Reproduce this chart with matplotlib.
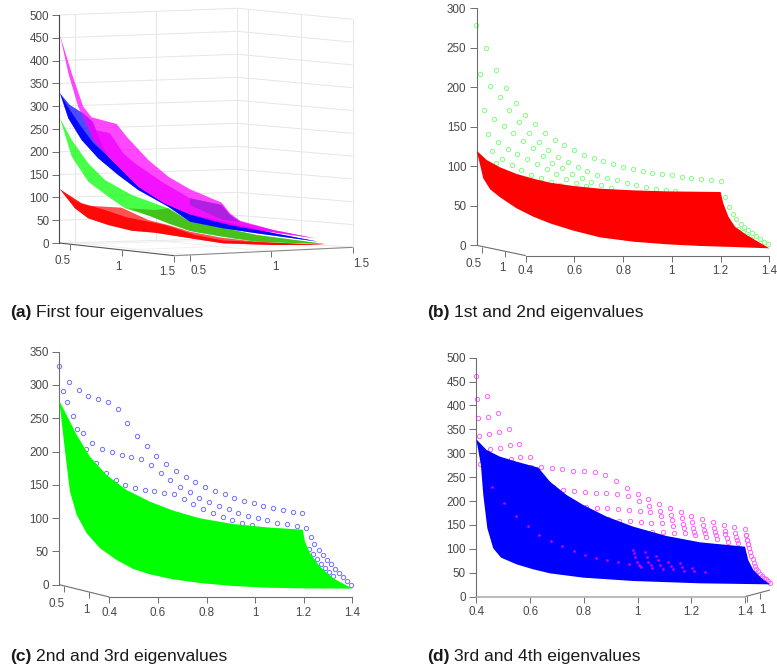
import numpy as np
import matplotlib
matplotlib.use("Agg")
import matplotlib.pyplot as plt

plt.rcParams['font.family'] = ['Liberation Sans', 'DejaVu Sans']

W, H = 777, 671
AXC = '#6e6e6e'
TXT = '#484848'
GRID = '#e6e6e6'
TS = 8.4

# ---------- panel (a) sheets: (x, z) outlines ----------
a_red_x = [-.3045,-.212,-.13,.076,.241,.385,.498,.702,.91,1.331,1.012,.702,.529,.282,.138,-.006,-.13,-.212]
a_red_z = [117.8,90.6,81.8,77.4,50.4,37.3,24.8,11,2.9,-4.4,-4.4,-.7,8.8,22.6,27,39.5,54.2,76.1]
a_redb_x = [-.3045,-.171,-.027,.107,.344,.529,.702,1.331,1.012,.702,.529,.282,.138,-.006,-.13,-.212]
a_redb_z = [117.8,87.1,72.4,56.4,39.5,17.5,5.5,-4.4,-4.4,-.7,8.8,22.6,27,39.5,54.2,76.1]
a_green_x = [-.3045,-.232,-.13,-.027,.138,.364,.498,.702,.91,1.331,.91,.702,.529,.364,.262,.097,-.006,-.13,-.232]
a_green_z = [273.5,225.9,174.8,138.2,105.3,76.1,46.7,32.9,17.5,-2.2,2.9,13.8,24.1,43.2,57.7,76.1,101.5,134.4,189.3]
a_greend_x = [.117,.282,.364,.498,.702,.91,1.331,.91,.702,.498,.375,.251]
a_greend_z = [76.1,72.4,76.1,46.7,32.9,17.5,-2.2,2.9,13.8,26.3,41.7,59.2]
a_blue_x = [-.3045,-.243,-.161,-.101,-.058,-.006,.179,.337,.498,.702,1.01,1.29,.91,.704,.498,.364,.179,.055,-.068,-.171,-.253]
a_blue_z = [328.3,302.6,284.4,265.4,225.9,189.3,123.5,87.7,62.9,46.7,21.9,2.9,21.3,32.2,46.7,79.6,116.2,149.1,185.7,225.9,273.5]
a_blueb_x = [-.3045,-.243,-.181,-.099,-.006,.179,.337,.498,.702,1.01,1.29,.91,.704,.498,.364,.179,.055,-.068,-.171,-.253]
a_blueb_z = [328.3,291.7,258.8,219.3,189.3,123.5,87.7,62.9,46.7,21.9,2.9,21.3,32.2,46.7,79.6,116.2,149.1,185.7,225.9,273.5]
a_mag_x = [-.3045,-.232,-.161,-.109,.045,.107,.241,.364,.498,.694,.745,.807,1.012,1.27,.91,.745,.621,.498,.337,.179,-.006,-.099,-.192,-.253]
a_mag_z = [456.1,372.2,298.9,275.7,261,233.1,182,145.4,117.8,88.4,65.1,48.9,28.5,10.3,28.5,39.5,50.4,62.9,87.7,123.5,189.3,225.9,298.9,372.2]
a_magb_x = [-.14,-.088,.004,.086,.158,.323,.498,.694,.745,.807,1.012,1.27,.91,.745,.621,.498,.337,.179,-.006,-.099]
a_magb_z = [280.7,247.8,240.6,196.7,174.8,134.4,98,83.3,61.4,46.7,28.5,10.3,28.5,39.5,50.4,62.9,87.7,123.5,189.3,225.9]
a_purple_x = [.498,.694,.745,.807,.703,.498]
a_purple_z = [98,83.3,61.4,46.7,50.4,83.3]

# ---------- panel (b) ----------
b_red_x = [.199,.240,.295,.363,.431,.500,.596,.705,.842,.979,1.200,1.211,1.232,1.259,1.307,1.400,
           1.252,1.115,.979,.842,.705,.596,.500,.431,.363,.295,.254,.226,.213]
b_red_z = [119.8,108,98.7,90.3,84.4,79.3,75.1,71.7,69.6,68.3,67.5,53.2,36.3,23.6,13.1,-3.8,
           -2.1,-.8,1.3,4.6,10.1,18.6,27.8,36.3,46.8,60.8,70.9,84.8,101.7]
b_row1 = [278.9,249.8,221.9,199.1,180.6,165.4,153.1,142.6,133.7,126.6,120.2,114.8,110.5,106.3,102.9,99.6,96.6,94.5,92,90.3,88.6,86.9,85.2,84,83.1,81.8]
b_row2 = [216.9,202.1,187.7,171.3,156.1,142.2,130.8,120.7,112.2,105,99.1,94.1,89.4,85.2,83.1,78.9,75.9,73.8,71.3,70,68.3]
b_row3 = [171.7,160.3,151,141.8,132,122.8,113.5,104.2,97.5,90.7,84.8,80.2,75.9,72.1]
b_row4 = [141.3,130.8,121.9,115.2,109.3,103.4,96.6,90.7,84.4,79.3,75.1]
b_row5 = [119.8,109.3,101.7,94.9,89.4,84.8,80.6,75.9]
b_row6 = [104.2]
b_rows = [(.198,b_row1),(.2126,b_row2),(.229,b_row3),(.2454,b_row4),(.2618,b_row5),(.2783,b_row6)]
b_tail_x = [1.217,1.233,1.249,1.265,1.282,1.298,1.314,1.330,1.346,1.362,1.378,1.394]
b_tail_z = [61.6,48.9,40.1,33.3,27.4,23.2,19.4,15.6,11.8,8.4,4.6,1.3]
b_tail2_x = [1.273,1.291,1.307,1.323]
b_tail2_z = [20.3,16.5,12.2,8.4]

# ---------- panel (c) ----------
c_green_x = [.194,.224,.266,.320,.389,.471,.567,.663,.773,.910,1.047,1.196,1.205,1.226,1.267,1.322,1.4,
             1.185,1.047,.910,.773,.663,.567,.499,.430,.362,.307,.266,.238,.218]
c_green_z = [276.4,254.9,224.8,192.3,164.7,142.2,124.7,111.2,99.6,91.1,86.1,82.6,64.6,47.1,27,9.5,-6,
             -5.5,-4.5,-2,2.5,8,15.5,23.5,37.1,54.6,77.1,104.6,139.7,199.8]
c_row1 = [328.5,304.4,292.4,283.9,278.4,274.4,264.4,242.8,223.8,207.8,193.8,181.8,171.2,162.2,154.2,147.2,141.2,135.7,130.2,126.2,122.2,118.7,115.2,112.7,109.7,107.7]
c_row2 = [291.4,253.4,227.8,213.3,204.3,198.8,194.3,191.3,188.8,180.3,168.2,157.2,147.2,139.7,130.7,124.7,118.2,113.2,108.2,103.6,100.6,96.6,93.1,90.6,88.1]
c_row3 = [274.9,233.8,203.8,182.8,167.2,157.2,150.2,145.7,142.7,140.7,138.2,136.2,129.2,121.2,114.2,108.2,102.1,97.1,93.1,89.1]
c_rows = [(.194,c_row1),(.2107,c_row2),(.2258,c_row3)]
c_tail_x = [1.211,1.228,1.244,1.261,1.279,1.295,1.312,1.328,1.345,1.361,1.378,1.394]
c_tail_z = [85.1,71.1,60.6,52.1,44.6,37.1,30.5,24,17.5,12,6,0]
c_tail2_x = [1.222,1.238,1.255,1.271,1.288,1.304,1.321]
c_tail2_z = [53.6,46.1,38.6,31.5,25.5,18.5,13.5]

# ---------- panel (d) ----------
d_blue_x = [.4,.438,.488,.55,.631,.674,.736,.798,.885,.984,1.108,1.233,1.4,1.412,1.431,1.462,1.493,
            1.233,.984,.798,.674,.612,.55,.492,.463,.441,.426,.417]
d_blue_z = [329.2,306.9,292.9,282.4,269.9,240.6,212.7,191.8,167.4,146.5,126.9,113.7,104.6,76.7,55.8,38.4,25.8,
            27.9,32.8,39.8,48.8,57.2,67.6,81.6,101.1,143,212.7,275.5]
d_row1 = [461.7,419.8,384.3,351.5,320.1,291.5,271.3,269.2,266.4,263.6,262.2,260.1,255.2,242,227.4,215.5,204.3,193.9,184.8,177.1,169.5,162.5,156.2,150.6,145.8,141.6]
d_row2 = [413.6,375.9,344.5,318,292.9,270.6,251.1,230.1,223.2,221.1,219.7,217.6,216.9,214.8,210.6,200.9,189.7,179.9,170.9,163.9,156.2,149.9,143.7,138.1,133.2,129]
d_row3 = [373.1,340.3,311.7,288,267.1,247.6,230.1,216.2,205.7,195.3,188.3,185.5,184.8,184.1,182,179.9,176.4,168.1,160.4,152.7,144.4,139.5,136,130.4,125.5,118.6]
d_row4 = [336.2,309,285.9,265,247.6,230.1,216.2,202.2,191.8,181.3,170.9,163.9,161.8,159,157.6,155.5,154.8,154.1,148.5,143,136,132.5,129,123.4,118.6,109.5]
d_row5 = [276.9,254.6,233.6,216.2,202.2,188.3,177.8,167.4,160.4,153.4,146.5,141.6,138.8,137.4,136,134.6,134.6,134.6,133.9,132.5,129,124.8,120.7,115.1,111.6]
d_rows = [(.4,d_row1),(.4037,d_row2),(.4074,d_row3),(.4112,d_row4),(.4149,d_row5)]
d_tail_x = [1.404,1.407,1.411,1.415,1.42,1.424,1.429,1.432,1.437,1.442,1.448,1.456,1.463,1.471,1.478,1.486,1.493]
d_tail_z = [129,118.6,109.5,101.1,92.8,85.1,78.1,70.4,64.2,58.6,53,47.4,43.2,39.8,36.3,32.1,27.9]
d_over_x = [.4596,.5042,.5476,.5911,.6345,.6767,.7189,.7623,.8045,.8454,.8876,.9285,.9695,1.0092,.9844,.988,.9918,.9993,1.0067,1.0129,
            1.0278,1.034,1.0402,1.0489,1.0551,1.0687,1.0749,1.0836,1.0935,1.1146,1.1233,1.1333,1.158,1.1667,1.1742,1.204,1.2102,1.2499]
d_over_z = [230.1,196.7,168.8,147.2,129,116.5,106.7,95.5,87.2,80.9,76,71.8,69,63.5,97.6,90.7,83.7,73.2,66.3,61.4,
            94.1,83.7,73.2,66.3,60.7,85.8,76.7,66.3,57.9,73.2,64.9,57.2,69.7,61.4,53.7,60.7,54.4,52.3]

x_ticks = [.4,.6,.8,1,1.2,1.4]
x_labels = ['0.4','0.6','0.8','1','1.2','1.4']

fig = plt.figure(figsize=(W/100, H/100), dpi=100)


def panel(left, right, xref, zref, zlo, zhi):
    x1, p1, x2, p2 = xref
    z1, q1, z2, q2 = zref
    sx = (p2-p1)/(x2-x1)
    sz = (q1-q2)/(z2-z1)
    top = q1-(zhi-z1)*sz
    bot = q1-(zlo-z1)*sz
    ax = fig.add_axes([left/W, 1-bot/H, (right-left)/W, (bot-top)/H])
    ax.set_xlim(x1+(left-p1)/sx, x1+(right-p1)/sx)
    ax.set_ylim(zlo, zhi)
    ax.patch.set_alpha(0)
    for s in ('top', 'right'):
        ax.spines[s].set_visible(False)
    ax.spines['left'].set_color(AXC)
    ax.spines['left'].set_linewidth(.8)
    ax.tick_params(axis='y', length=5, width=.7, color=AXC, labelcolor=TXT, labelsize=TS, pad=2.5)
    ax.tick_params(axis='x', length=4.5, width=.7, color=AXC, labelcolor=TXT, labelsize=TS, pad=2.5)
    return ax


def line(ax, x, z, color=AXC, lw=.8, zorder=1.5):
    ax.plot(x, z, color=color, lw=lw, clip_on=False, solid_capstyle='butt', zorder=zorder)


def dots(ax, rows, step, color, extra=()):
    for x0, row in rows:
        x = x0+step*np.arange(len(row))
        ax.plot(x, row, 'o', mfc='none', mec=color, ms=3.1, mew=.7, clip_on=False, zorder=2)
    for ex, ez in extra:
        ax.plot(ex, ez, 'o', mfc='none', mec=color, ms=3.1, mew=.7, clip_on=False, zorder=2)


def depth_labels(ax, xs, zs, labels):
    for x, z, t in zip(xs, zs, labels):
        ax.text(x, z, t, ha='center', va='center', fontsize=TS, color=TXT, clip_on=False)


def bottom(ax, zbase, color=AXC, lw=.8):
    ax.spines['bottom'].set_position(('data', zbase))
    ax.spines['bottom'].set_bounds(.4, 1.4)
    ax.spines['bottom'].set_color(color)
    ax.spines['bottom'].set_linewidth(lw)
    ax.set_xticks(x_ticks, x_labels)


# ===== (a) =====
axa = panel(59.5, 380, (.5, 190.33, 1.0, 271.33), (0, 243, 500, 15), -30, 530)
axa.spines['bottom'].set_visible(False)
axa.spines['left'].set_bounds(0, 500)
axa.spines['left'].set_color('#444444')
axa.set_yticks(np.arange(0, 501, 50))
axa.set_xticks([])
for k in np.arange(0, 501, 50):
    line(axa, [-.309, .790, 1.502], [k, 10.2+k*1.009, k*1.0-9.5], color=GRID, lw=.7, zorder=.5)
line(axa, [.790, .790], [10.2, 514.6], color=GRID, lw=.7, zorder=.5)
line(axa, [1.502, 1.502], [-9.5, 490.5], color=GRID, lw=.7, zorder=.5)
for x_, zb, zt in [(-.21, .7, 501.5), (.29, 5.8, 508), (.858, 8, 512.4), (1.181, -.7, 501.5)]:
    line(axa, [x_, x_], [zb, zt], color=GRID, lw=.7, zorder=.5)
for xs_, zs_ in [((-.21, .5), (.7, -26.3)), ((.29, 1), (5.1, -18.3)),
                 ((-.245, .858), (-2.9, 8)), ((.08, 1.181), (-15.4, -.7))]:
    line(axa, xs_, zs_, color='#eeeeee', lw=.6, zorder=.5)
line(axa, [-.309, .401], [0, -27.8], color='#555555')
line(axa, [.401, 1.502], [-27.8, -9.5], color='#888888')
for tx, tz in [(-.245, -2.9), (.08, -15.4), (.401, -27.8), (.5, -26.3), (1, -18.3), (1.502, -9.5)]:
    line(axa, [tx, tx], [tz, tz-13], color=AXC, lw=.7)
depth_labels(axa, [-.29, .055, .358, .549, 1.023, 1.554], [-39.5, -51.9, -62.9, -61.4, -53.4, -46.1],
             ['0.5', '1', '1.5', '0.5', '1', '1.5'])
axa.fill(a_red_x, a_red_z, color='#ff0000', alpha=.68, lw=0, zorder=3)
axa.fill(a_redb_x, a_redb_z, color='#ff0000', alpha=.9, lw=0, zorder=3)
axa.fill(a_green_x, a_green_z, color='#00ff00', alpha=.72, lw=0, zorder=3)
axa.fill(a_greend_x, a_greend_z, color='#45c01c', lw=0, zorder=3)
axa.fill(a_blue_x, a_blue_z, color='#0000ff', alpha=.7, lw=0, zorder=3)
axa.fill(a_blueb_x, a_blueb_z, color='#0000ff', alpha=.9, lw=0, zorder=3)
axa.fill(a_mag_x, a_mag_z, color='#ff00ff', alpha=.72, lw=0, zorder=3)
axa.fill(a_magb_x, a_magb_z, color='#f000ff', alpha=.75, lw=0, zorder=3)
axa.fill(a_purple_x, a_purple_z, color='#b020e0', lw=0, zorder=3)

# ===== (b) =====
axb = panel(476.67, 777, (.4, 525.67, 1.4, 769.33), (0, 245.33, 300, 8.33), -35, 300)
axb.spines['left'].set_bounds(0, 300)
axb.set_yticks(np.arange(0, 301, 50))
bottom(axb, -13)
line(axb, [.199, .4], [0, -13])
for tx, tz in [(.2194, -1.5), (.3166, -7.8)]:
    line(axb, [tx, tx], [tz, tz-7.6], lw=.7)
depth_labels(axb, [.1852, .3029], [-23.6, -29.1], ['0.5', '1'])
dots(axb, b_rows, .0401, '#80ff80', [(b_tail_x, b_tail_z), (b_tail2_x, b_tail2_z)])
axb.fill(b_red_x, b_red_z, color='#ff0000', lw=0, zorder=3)

# ===== (c) =====
axc = panel(59.33, 380, (.4, 109.33, 1.4, 352.33), (0, 584.67, 350, 351.67), -50, 350)
axc.spines['left'].set_bounds(0, 350)
axc.set_yticks(np.arange(0, 351, 50))
bottom(axc, -18.5)
line(axc, [.194, .4], [0, -18.5])
for tx, tz in [(.2146, -1.9), (.3177, -11.3)]:
    line(axc, [tx, tx], [tz, tz-9], lw=.7)
depth_labels(axc, [.1833, .304], [-28.5, -37.6], ['0.5', '1'])
dots(axc, c_rows, .04, '#7070ff', [(c_tail_x, c_tail_z), (c_tail2_x, c_tail2_z)])
axc.fill(c_green_x, c_green_z, color='#00ff00', lw=0, zorder=3)

# ===== (d) =====
axd = panel(476.33, 777, (.4, 476.33, 1.4, 745), (0, 596.67, 500, 357.67), -45, 500)
axd.spines['left'].set_bounds(0, 500)
axd.set_yticks(np.arange(0, 501, 50))
bottom(axd, 0, color='#a8a8a8', lw=1.1)
line(axd, [1.4, 1.493], [0, 13.9])
for tx, tz in [(1.407, 1.4), (1.456, 8.4)]:
    line(axd, [tx, tx], [tz, tz-12.5], lw=.7)
depth_labels(axd, [1.466], [-27.9], ['1'])
dots(axd, d_rows, .04, '#ff60ff', [(d_tail_x, d_tail_z)])
axd.fill(d_blue_x, d_blue_z, color='#0000ff', lw=0, zorder=3)
axd.plot(d_over_x, d_over_z, 'o', color='#c000f0', ms=2, mew=0, zorder=4, clip_on=False)

# ===== captions =====
caps = [(10, 36.5, 313, '(a)', 'First four eigenvalues'),
        (426.7, 454, 313, '(b)', '1st and 2nd eigenvalues'),
        (10, 36.5, 656.5, '(c)', '2nd and 3rd eigenvalues'),
        (426.7, 454, 656.5, '(d)', '3rd and 4th eigenvalues')]
for xb, xt, y, lab, cap in caps:
    fig.text(xb/W, 1-y/H, lab, fontsize=12.6, fontweight='bold', color='#1a1a1a', va='center', ha='left')
    fig.text(xt/W, 1-y/H, cap, fontsize=12.6, color='#1a1a1a', va='center', ha='left')

fig.savefig('out.png', dpi=100)
